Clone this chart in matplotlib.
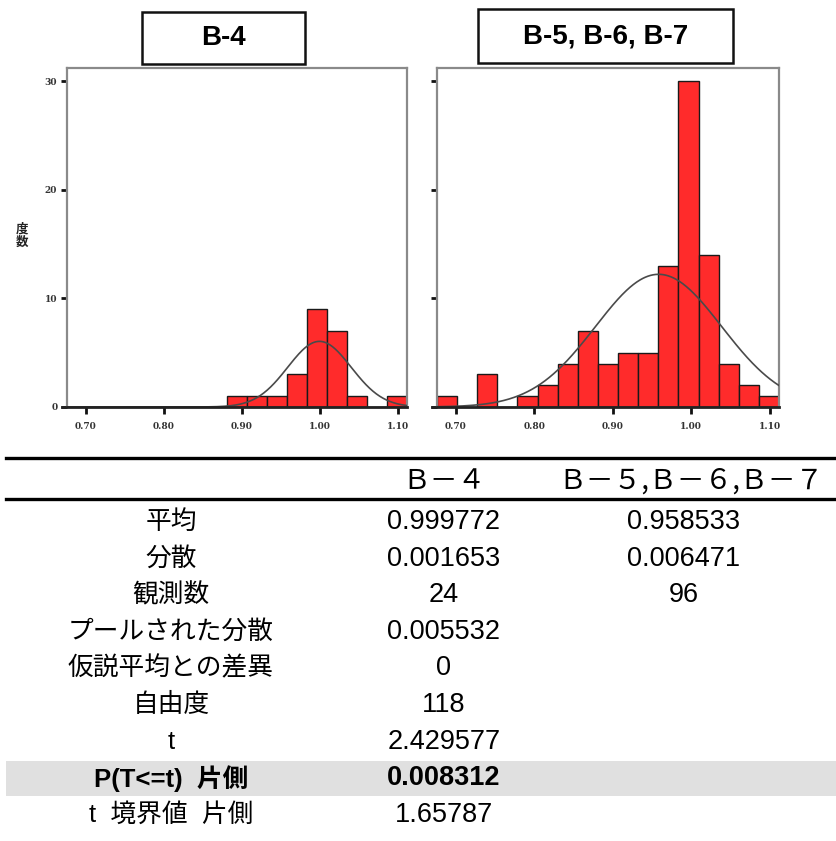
import numpy as np
import matplotlib
matplotlib.use("Agg")
import matplotlib.pyplot as plt
from matplotlib.patches import Rectangle
from matplotlib.lines import Line2D

# ---- histogram data (counts per bin) ----
bin_start = 0.676
bin_width = 0.02565
counts_b4 = [0, 0, 0, 0, 0, 0, 0, 0, 1, 1, 1, 3, 9, 7, 1, 0, 1]
counts_b567 = [1, 0, 3, 0, 1, 2, 4, 7, 4, 5, 5, 13, 30, 14, 4, 2, 1]
panel_titles = ["B-4", "B-5, B-6, B-7"]
x_ticks = [0.70, 0.80, 0.90, 1.00, 1.10]
x_tick_labels = ["0.70", "0.80", "0.90", "1.00", "1.10"]
y_ticks = [0, 10, 20, 30]
y_label = "度\n数"

# ---- t-test summary table ----
col_headers = ["Ｂ－４", "Ｂ－５,Ｂ－６,Ｂ－７"]
row_labels = ["平均", "分散", "観測数", "プールされた分散", "仮説平均との差異",
              "自由度", "t", "P(T<=t)  片側", "t  境界値  片側"]
col_b4 = ["0.999772", "0.001653", "24", "0.005532", "0", "118", "2.429577",
          "0.008312", "1.65787"]
col_b567 = ["0.958533", "0.006471", "96", "", "", "", "", "", ""]
mean_b4, var_b4, n_b4 = 0.999772, 0.001653, 24
mean_b567, var_b567, n_b567 = 0.958533, 0.006471, 96
bold_row = 7

W, H = 837, 841
fig = plt.figure(figsize=(W / 100, H / 100), dpi=100)
fig.patch.set_facecolor("white")


def fx(px):
    return px / W


def fy(py):
    return 1 - py / H


edges = bin_start + bin_width * np.arange(len(counts_b567) + 1)
xlim = (edges[0], edges[-1])
frame_col = "#8a8a8a"


def draw_panel(ax, counts, mean, var, n, show_labels):
    ax.bar(edges[:-1], counts, width=bin_width, align="edge",
           color="#ff2b2b", edgecolor="#1a1a1a", linewidth=1.0, zorder=2)
    xs = np.linspace(xlim[0], xlim[1], 400)
    sd = np.sqrt(var)
    ys = n * bin_width / (sd * np.sqrt(2 * np.pi)) * np.exp(-0.5 * ((xs - mean) / sd) ** 2)
    ax.plot(xs, ys, color="#4a4a4a", lw=1.2, zorder=3)
    ax.set_xlim(*xlim)
    ax.set_ylim(0, 31.2)
    for s in ax.spines.values():
        s.set_color(frame_col)
        s.set_linewidth(1.6)
    ax.spines["bottom"].set_visible(False)
    # x axis line, reaching slightly past the frame on the left
    ax.add_line(Line2D([-0.016, 1.0], [0, 0], transform=ax.transAxes,
                       color="#222222", lw=2.0, clip_on=False, zorder=4))
    ax.set_xticks(x_ticks)
    ax.set_xticklabels(x_tick_labels)
    ax.set_yticks(y_ticks)
    ax.tick_params(axis="x", direction="out", length=5, width=2.0, color="#111111",
                   pad=6, labelsize=6.5)
    ax.tick_params(axis="y", direction="out", length=4, width=2.0, color="#111111",
                   pad=3, labelsize=6.5)
    for lab in ax.get_xticklabels() + ax.get_yticklabels():
        lab.set_fontfamily("DejaVu Serif")
        lab.set_fontweight("bold")
        lab.set_color("#333333")
    if not show_labels:
        ax.set_yticklabels([])


ax1 = fig.add_axes([fx(67), fy(407), fx(340), 339 / H])
draw_panel(ax1, counts_b4, mean_b4, var_b4, n_b4, True)
ax2 = fig.add_axes([fx(437), fy(407), fx(342), 339 / H])
draw_panel(ax2, counts_b567, mean_b567, var_b567, n_b567, False)

fig.text(fx(22), fy(236), y_label, ha="center", va="center", fontsize=9,
         fontweight="bold", family=["Noto Sans CJK JP"], linespacing=1.0,
         color="#222222")

# title boxes above each panel
for (x0, x1, y0, y1), title in zip([(142, 305, 12, 64), (478, 733, 9, 63)], panel_titles):
    fig.patches.append(Rectangle((fx(x0), fy(y1)), fx(x1 - x0), (y1 - y0) / H,
                                 transform=fig.transFigure, facecolor="white",
                                 edgecolor="#111111", lw=1.8))
    fig.text(fx((x0 + x1) / 2), fy((y0 + y1) / 2), title, ha="center", va="center",
             fontsize=20, fontweight="bold", family=["Liberation Sans"])

# ---- table ----
fam = ["Liberation Sans", "Noto Sans CJK JP"]
fig.lines.append(Line2D([fx(6), fx(834)], [fy(458), fy(458)], transform=fig.transFigure,
                        color="black", lw=2.4))
fig.lines.append(Line2D([fx(6), fx(834)], [fy(499), fy(499)], transform=fig.transFigure,
                        color="black", lw=2.4))

label_x = 171
val_x = [444, 684]
hdr_x = [444, 691]
hdr_y = 481
for hx, hdr in zip(hdr_x, col_headers):
    fig.text(fx(hx), fy(hdr_y), hdr, ha="center", va="center",
             fontsize=20, family=["Noto Sans CJK JP"])

row_y0, row_step = 522, 36.6
for i, (lab, v1, v2) in enumerate(zip(row_labels, col_b4, col_b567)):
    y = row_y0 + i * row_step
    weight = "bold" if i == bold_row else "normal"
    if i == bold_row:
        fig.patches.append(Rectangle((fx(6), fy(y + 17.5)), fx(831), 35 / H,
                                     transform=fig.transFigure, facecolor="#e0e0e0",
                                     edgecolor="none", zorder=0))
    fig.text(fx(label_x), fy(y), lab, ha="center", va="center", fontsize=18.5,
             fontweight=weight, family=fam)
    fig.text(fx(val_x[0]), fy(y), v1, ha="center", va="center", fontsize=19.5,
             fontweight=weight, family=fam)
    if v2:
        fig.text(fx(val_x[1]), fy(y), v2, ha="center", va="center", fontsize=19.5,
                 fontweight=weight, family=fam)

fig.savefig("out.png", dpi=100)
